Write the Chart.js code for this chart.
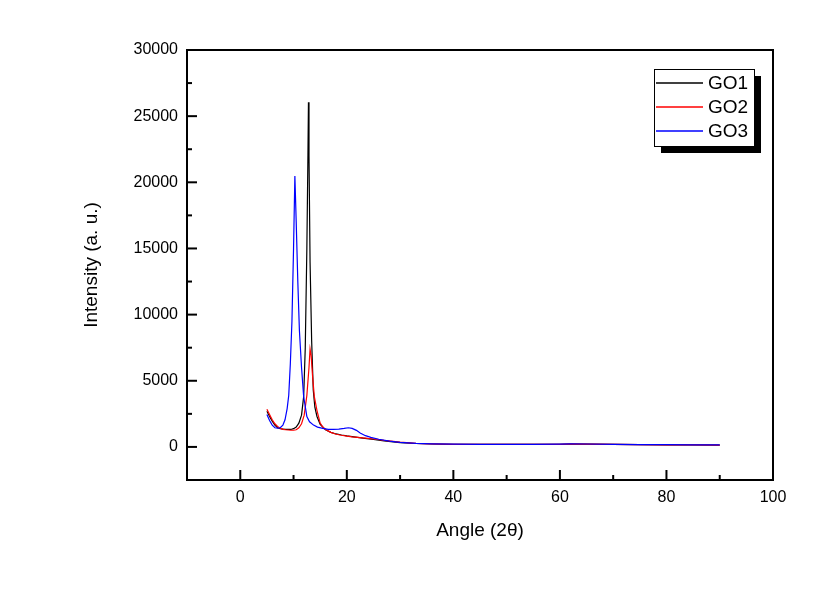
<!DOCTYPE html>
<html>
<head>
<meta charset="utf-8">
<script src="https://cdn.jsdelivr.net/npm/chart.js@4.4.0/dist/chart.umd.min.js"></script>
<style>
  html, body { margin: 0; padding: 0; background: #fff; }
  #wrap { width: 827px; height: 589px; }
</style>
</head>
<body>
<div id="wrap"><canvas id="myChart" width="827" height="589"></canvas></div>
<script>
        // tick labels
        const xTicks = [0, 20, 40, 60, 80, 100];
        const yTicks = [0, 5000, 10000, 15000, 20000, 25000, 30000];

        const seriesNames = ['GO1', 'GO2', 'GO3'];
        const seriesColors = ['#000000', '#ff0000', '#0000ff'];

        // GO1 (black)
        const go1X = [5, 5.5, 6, 6.5, 7, 7.5, 8, 8.5, 9, 9.5, 10, 10.5, 11, 11.5, 11.9, 12.2, 12.5, 12.7, 12.8, 12.9, 13.1, 13.4, 13.7, 14.0, 14.4, 15, 16, 17, 18, 19, 20, 21, 22, 23, 25, 27, 30, 33, 36, 40, 45, 50, 55, 60, 62, 65, 70, 75, 80, 85, 90];
        const go1Y = [2700, 2300, 1950, 1650, 1450, 1380, 1350, 1320, 1330, 1320, 1380, 1500, 1800, 2400, 3800, 7500, 15000, 22000, 26050, 22000, 14000, 8000, 4300, 3000, 2300, 1700, 1300, 1100, 980, 900, 830, 780, 720, 660, 560, 450, 330, 260, 220, 200, 190, 190, 190, 200, 220, 210, 190, 170, 160, 150, 140];

        // GO2 (red)
        const go2X = [5, 5.5, 6, 6.5, 7, 7.5, 8, 8.5, 9, 9.5, 10, 10.5, 11, 11.5, 12, 12.5, 12.9, 13.1, 13.3, 13.6, 13.9, 14.4, 15, 15.6, 16.3, 17, 18, 19, 20, 21, 22.5, 24, 25.6, 27, 30, 33, 36, 40, 45, 50, 55, 60, 62, 65, 70, 75, 80, 85, 90];
        const go2Y = [2850, 2450, 2050, 1750, 1550, 1420, 1330, 1300, 1280, 1260, 1260, 1300, 1450, 1750, 2400, 3900, 6000, 7400, 6900, 5200, 3800, 2750, 1800, 1450, 1250, 1100, 960, 880, 810, 760, 710, 640, 580, 500, 360, 270, 230, 200, 190, 190, 190, 200, 230, 210, 190, 170, 160, 150, 140];

        // GO3 (blue)
        const go3X = [5, 5.5, 6, 6.5, 7, 7.5, 8, 8.4, 8.8, 9.1, 9.4, 9.7, 10.0, 10.25, 10.5, 10.8, 11.1, 11.5, 11.9, 12.5, 13, 13.75, 14.5, 15.5, 16.5, 17.5, 18.5, 19.5, 20.3, 21, 21.8, 22.5, 23.5, 24.5, 26, 28, 30, 33, 36, 40, 45, 50, 55, 60, 62, 65, 70, 75, 80, 85, 90];
        const go3Y = [2450, 2000, 1650, 1450, 1420, 1450, 1650, 2050, 2900, 3900, 6300, 9500, 15000, 20470, 17000, 12500, 8800, 6000, 3800, 2300, 1900, 1650, 1500, 1400, 1330, 1320, 1350, 1400, 1450, 1400, 1250, 1050, 850, 720, 580, 440, 340, 270, 230, 210, 200, 200, 200, 210, 230, 220, 200, 180, 170, 160, 150];

        const FONT = "'Liberation Sans', Arial, sans-serif";

        function toPoints(xs, ys) {
            return xs.map((x, i) => ({ x: x, y: ys[i] }));
        }

        function makeSet(idx, xs, ys) {
            return {
                label: seriesNames[idx],
                data: toPoints(xs, ys),
                borderColor: seriesColors[idx],
                backgroundColor: seriesColors[idx],
                borderWidth: 1.2,
                pointRadius: 0,
                showLine: true,
                tension: 0,
                order: seriesNames.length - 1 - idx  // later series drawn on top
            };
        }

        // frame, inward ticks and the shadowed legend box
        const framePlugin = {
            id: 'frame',
            afterDraw(chart) {
                const c = chart.ctx;
                const a = chart.chartArea;
                const xs = chart.scales.x;
                const ys = chart.scales.y;
                c.save();
                c.strokeStyle = '#000';
                c.lineWidth = 2;
                c.strokeRect(a.left, a.top, a.right - a.left, a.bottom - a.top);

                // x ticks
                for (let v = -10; v <= 100; v += 10) {
                    const px = xs.getPixelForValue(v);
                    const len = v % 20 === 0 ? 10 : 5;
                    c.beginPath();
                    c.moveTo(px, a.bottom);
                    c.lineTo(px, a.bottom - len);
                    c.stroke();
                }
                // y ticks
                for (let v = -2500; v <= 30000; v += 2500) {
                    const py = ys.getPixelForValue(v);
                    const len = v % 5000 === 0 ? 10 : 5;
                    c.beginPath();
                    c.moveTo(a.left, py);
                    c.lineTo(a.left + len, py);
                    c.stroke();
                }

                // legend
                const bw = 100, bh = 77;
                const bx = Math.round(a.right - 119), by = Math.round(a.top + 19);
                c.fillStyle = '#000';
                c.fillRect(bx + 7, by + 7, bw, bh);
                c.fillStyle = '#fff';
                c.fillRect(bx, by, bw, bh);
                c.strokeStyle = '#000';
                c.lineWidth = 1;
                c.strokeRect(bx + 0.5, by + 0.5, bw, bh);
                c.font = '19px ' + FONT;
                c.textBaseline = 'middle';
                for (let i = 0; i < seriesNames.length; i++) {
                    const ry = by + 14 + i * 24;
                    c.strokeStyle = seriesColors[i];
                    c.lineWidth = 1.6;
                    c.beginPath();
                    c.moveTo(bx + 2, ry);
                    c.lineTo(bx + 49, ry);
                    c.stroke();
                    c.fillStyle = '#000';
                    c.fillText(seriesNames[i], bx + 54, ry + 1);
                }
                c.restore();
            }
        };

        const ctx = document.getElementById('myChart').getContext('2d');

        const myChart = new Chart(ctx, {
            type: 'scatter',
            data: {
                datasets: [
                    makeSet(0, go1X, go1Y),
                    makeSet(1, go2X, go2Y),
                    makeSet(2, go3X, go3Y)
                ]
            },
            options: {
                responsive: false,
                animation: false,
                layout: { padding: { left: 0, top: 50, right: 54, bottom: 0 } },
                plugins: {
                    legend: { display: false },
                    tooltip: { enabled: false }
                },
                scales: {
                    x: {
                        type: 'linear',
                        min: -10,
                        max: 100,
                        afterBuildTicks: s => { s.ticks = xTicks.map(v => ({ value: v })); },
                        afterFit: s => { s.height = 109; },
                        grid: { display: false, drawTicks: false },
                        border: { display: false },
                        ticks: { color: '#000', padding: 8, font: { family: FONT, size: 16 }, callback: v => String(v) },
                        title: {
                            display: true,
                            text: 'Angle (2θ)',
                            color: '#000',
                            font: { family: FONT, size: 19 },
                            padding: { top: 0, bottom: 47 }
                        }
                    },
                    y: {
                        type: 'linear',
                        min: -2500,
                        max: 30000,
                        afterBuildTicks: s => { s.ticks = yTicks.map(v => ({ value: v })); },
                        afterFit: s => { s.width = 187; },
                        grid: { display: false, drawTicks: false },
                        border: { display: false },
                        ticks: { color: '#000', padding: 9, font: { family: FONT, size: 16 }, callback: v => String(v) },
                        title: {
                            display: true,
                            text: 'Intensity (a. u.)',
                            color: '#000',
                            font: { family: FONT, size: 19 },
                            padding: { top: 80, bottom: 0 }
                        }
                    }
                }
            },
            plugins: [framePlugin]
        });
</script>
</body>
</html>
